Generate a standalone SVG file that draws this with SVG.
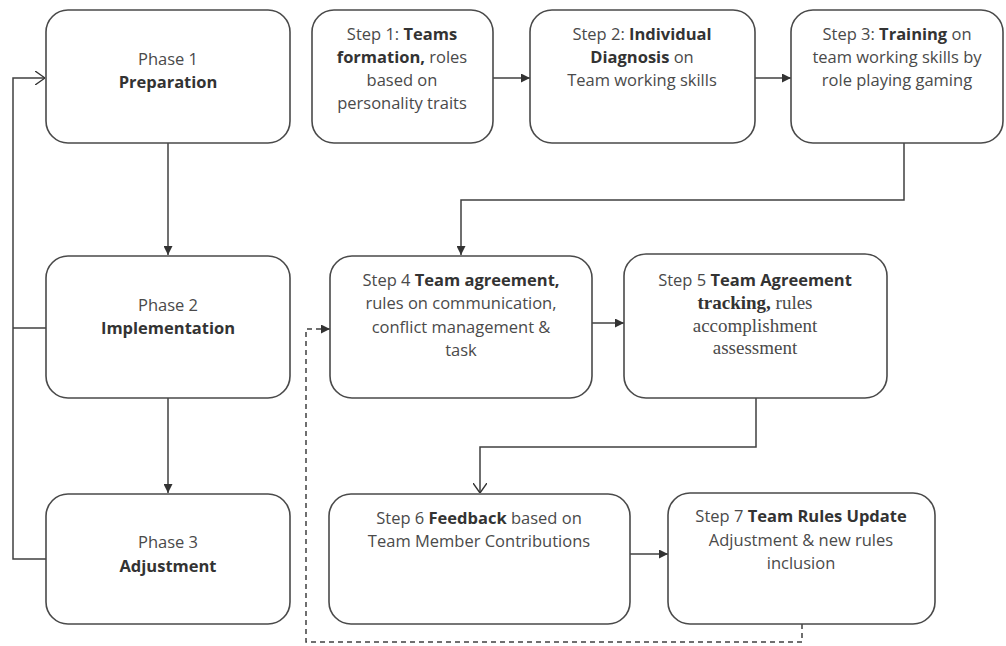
<svg xmlns="http://www.w3.org/2000/svg" width="1006" height="646" viewBox="0 0 1006 646">
<defs>
<marker id="fill" viewBox="0 0 10 10" refX="10" refY="5" markerWidth="9" markerHeight="9" markerUnits="userSpaceOnUse" orient="auto">
<path d="M0,0 L10,5 L0,10 Z" fill="#333"/>
</marker>
<marker id="open" viewBox="0 0 10 14" refX="10" refY="7" markerWidth="10" markerHeight="14" markerUnits="userSpaceOnUse" orient="auto">
<path d="M0,0 L10,7 L0,14" fill="none" stroke="#333" stroke-width="1.4"/>
</marker>
</defs>
<style>
.box{fill:#fff;stroke:#4a4a4a;stroke-width:1.6}
.t{font-family:"Open Sans","Noto Sans",sans-serif;font-size:16.5px;fill:#4a4a4a;text-anchor:middle}
.b{font-weight:bold;fill:#333}
.s{font-family:"Liberation Serif",serif;font-size:19px}
.ln{fill:none;stroke:#404040;stroke-width:1.5}
.d{stroke-dasharray:5,4}
</style>
<rect width="1006" height="646" fill="#fff"/>
<g id="connectors">
<path class="ln" d="M168,143 V255" marker-end="url(#fill)"/>
<path class="ln" d="M168,398 V493" marker-end="url(#fill)"/>
<path class="ln" d="M46,559 H13 V78 H45" marker-end="url(#open)"/>
<path class="ln" d="M46,328 H13"/>
<path class="ln" d="M493,78 H530" marker-end="url(#fill)"/>
<path class="ln" d="M755,78 H791" marker-end="url(#fill)"/>
<path class="ln" d="M904,143 V200 H461 V255" marker-end="url(#fill)"/>
<path class="ln" d="M592,323 H624" marker-end="url(#fill)"/>
<path class="ln" d="M756,398 V447 H480 V493" marker-end="url(#open)"/>
<path class="ln" d="M630,554 H668" marker-end="url(#fill)"/>
<path class="ln d" d="M802,624 V642 H306 V329 H322"/>
<path class="ln" d="M322,329 H330" marker-end="url(#fill)"/>
</g>
<g id="phase1">
<rect class="box" x="46" y="10" width="244" height="133" rx="22"/>
<text class="t" x="168" y="65">Phase 1</text>
<text class="t b" x="168" y="88">Preparation</text>
</g>
<g id="phase2">
<rect class="box" x="46" y="256" width="244" height="142" rx="22"/>
<text class="t" x="168" y="311">Phase 2</text>
<text class="t b" x="168" y="334">Implementation</text>
</g>
<g id="phase3">
<rect class="box" x="46" y="494" width="244" height="130" rx="22"/>
<text class="t" x="168" y="548">Phase 3</text>
<text class="t b" x="168" y="572">Adjustment</text>
</g>
<g id="step1">
<rect class="box" x="312" y="10" width="181" height="133" rx="22"/>
<text class="t" x="402" y="40">Step 1: <tspan class="b">Teams</tspan></text>
<text class="t" x="402" y="63"><tspan class="b">formation,</tspan> roles</text>
<text class="t" x="402" y="86">based on</text>
<text class="t" x="402" y="109">personality traits</text>
</g>
<g id="step2">
<rect class="box" x="530" y="10" width="225" height="133" rx="22"/>
<text class="t" x="642" y="40">Step 2: <tspan class="b">Individual</tspan></text>
<text class="t" x="642" y="63"><tspan class="b">Diagnosis</tspan> on</text>
<text class="t" x="642" y="86">Team working skills</text>
</g>
<g id="step3">
<rect class="box" x="791" y="10" width="212" height="133" rx="22"/>
<text class="t" x="897" y="40">Step 3: <tspan class="b">Training</tspan> on</text>
<text class="t" x="897" y="63">team working skills by</text>
<text class="t" x="897" y="86">role playing gaming</text>
</g>
<g id="step4">
<rect class="box" x="330" y="256" width="262" height="142" rx="22"/>
<text class="t" x="461" y="286">Step 4 <tspan class="b">Team agreement,</tspan></text>
<text class="t" x="461" y="309">rules on communication,</text>
<text class="t" x="461" y="333">conflict management &amp;</text>
<text class="t" x="461" y="356">task</text>
</g>
<g id="step5">
<rect class="box" x="624" y="254" width="263" height="144" rx="22"/>
<text class="t" x="755" y="286">Step 5 <tspan class="b">Team Agreement</tspan></text>
<text class="t s" x="755" y="309"><tspan class="b">tracking,</tspan> rules</text>
<text class="t s" x="755" y="332">accomplishment</text>
<text class="t s" x="755" y="354">assessment</text>
</g>
<g id="step6">
<rect class="box" x="329" y="494" width="301" height="130" rx="22"/>
<text class="t" x="479" y="524">Step 6 <tspan class="b">Feedback</tspan> based on</text>
<text class="t" x="479" y="547">Team Member Contributions</text>
</g>
<g id="step7">
<rect class="box" x="668" y="493" width="267" height="131" rx="22"/>
<text class="t" x="801" y="522">Step 7 <tspan class="b">Team Rules Update</tspan></text>
<text class="t" x="801" y="546">Adjustment &amp; new rules</text>
<text class="t" x="801" y="569">inclusion</text>
</g>
</svg>
